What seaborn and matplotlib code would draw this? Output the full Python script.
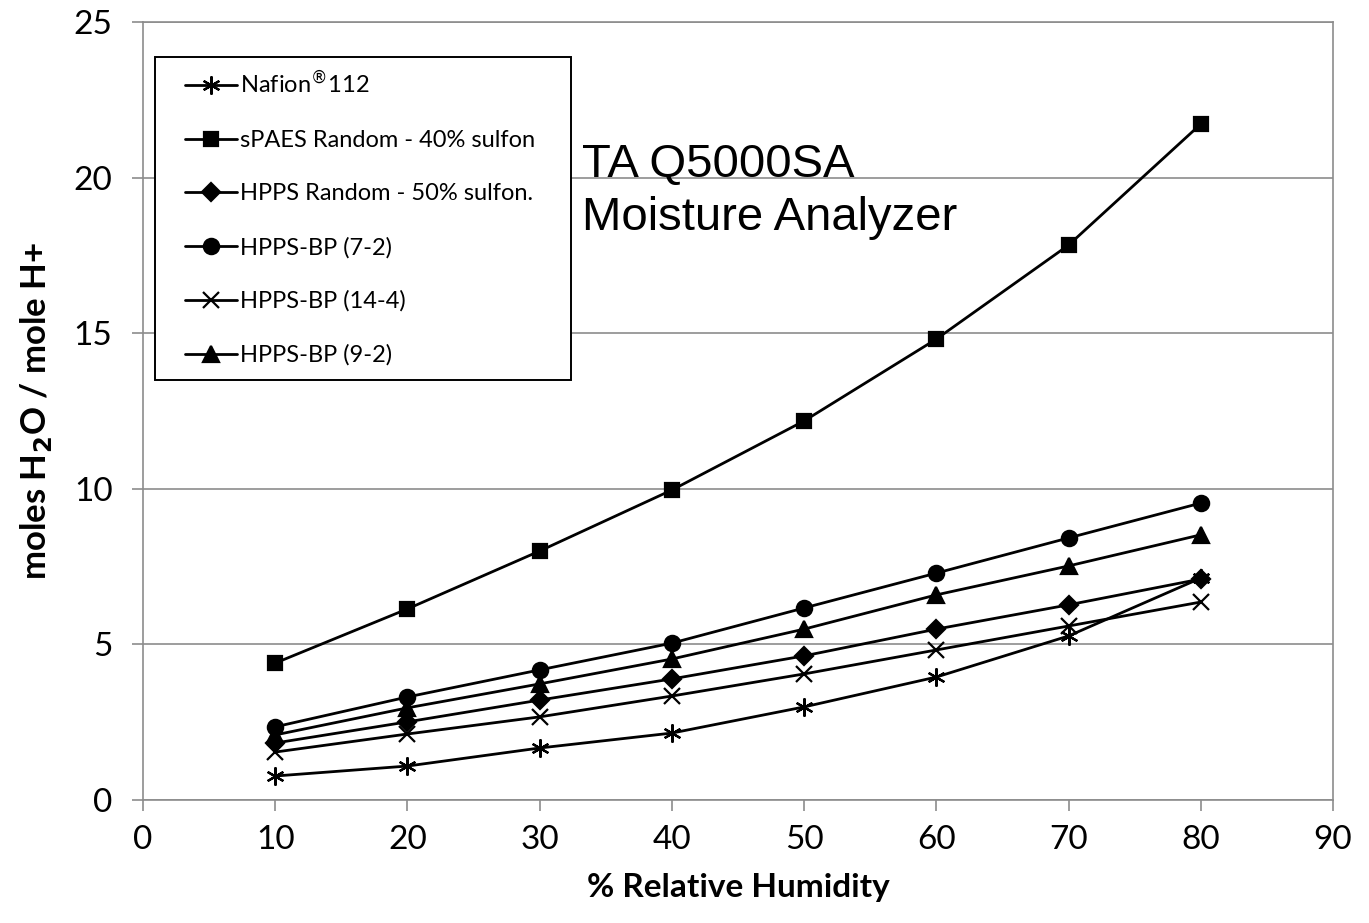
import matplotlib
matplotlib.use("Agg")
import matplotlib.pyplot as plt
from matplotlib.patches import Rectangle
import pandas as pd
import seaborn as sns

rh = [10, 20, 30, 40, 50, 60, 70, 80]

nafion = [0.77, 1.09, 1.67, 2.15, 2.99, 3.95, 5.27, 7.13]
spaes = [4.40, 6.14, 8.00, 9.96, 12.18, 14.81, 17.83, 21.72]
hpps_random = [1.83, 2.51, 3.21, 3.89, 4.63, 5.49, 6.27, 7.10]
bp_7_2 = [2.35, 3.31, 4.18, 5.04, 6.17, 7.29, 8.42, 9.54]
bp_14_4 = [1.54, 2.12, 2.67, 3.34, 4.05, 4.82, 5.59, 6.36]
bp_9_2 = [2.09, 2.96, 3.73, 4.53, 5.49, 6.59, 7.52, 8.52]

labels = [
    "Nafion$^{®}$112",
    "sPAES Random - 40% sulfon",
    "HPPS Random - 50% sulfon.",
    "HPPS-BP (7-2)",
    "HPPS-BP (14-4)",
    "HPPS-BP (9-2)",
]
series = [nafion, spaes, hpps_random, bp_7_2, bp_14_4, bp_9_2]
marker_list = [(6, 2, 0), "s", "D", "o", "x", "^"]
marker_sizes = [13, 10, 9, 11, 11, 12]

rows = []
for lab, vals in zip(labels, series):
    for x, y in zip(rh, vals):
        rows.append({"rh": x, "val": y, "series": lab})
df = pd.DataFrame(rows)

sns.set_theme(style="white")
plt.rcParams["font.family"] = ["Lato", "DejaVu Sans"]
plt.rcParams["text.color"] = "black"
plt.rcParams["axes.labelcolor"] = "black"

fig = plt.figure(figsize=(13.69, 9.23), dpi=100)
ax = fig.add_axes([0.1045, 0.1333, 0.8692, 0.8429])

for lab, m, ms in zip(labels, marker_list, marker_sizes):
    sub = df[df["series"] == lab]
    sns.lineplot(data=sub, x="rh", y="val", ax=ax, color="black", lw=2,
                 marker=m, markersize=ms, markeredgecolor="black",
                 markerfacecolor="black", markeredgewidth=1.6, label=lab)

ax.set_xlim(0, 90)
ax.set_ylim(0, 25)
ax.set_xticks(range(0, 91, 10))
ax.set_yticks(range(0, 26, 5))
ax.yaxis.grid(True, color="#8c8c8c", lw=1.2)
ax.xaxis.grid(False)
for s in ax.spines.values():
    s.set_color("#8c8c8c")
    s.set_linewidth(1.2)
ax.tick_params(axis="both", direction="out", length=8, width=1.2,
               color="#8c8c8c", labelsize=24, labelcolor="black",
               bottom=True, left=True)
ax.tick_params(axis="y", pad=14)
ax.tick_params(axis="x", pad=10)

ax.set_xlabel("% Relative Humidity", fontsize=24, fontweight="bold", labelpad=13)
ax.set_ylabel(r"moles H$_\mathbf{2}$O / mole H+", fontsize=25,
              fontweight="bold", labelpad=14)

# instrument note
ax.text(0.369, 0.8008, "TA Q5000SA", transform=ax.transAxes, fontsize=34,
        family=["Liberation Sans"], va="baseline", ha="left", color="black")
ax.text(0.369, 0.7326, "Moisture Analyzer", transform=ax.transAxes, fontsize=34,
        family=["Liberation Sans"], va="baseline", ha="left", color="black")

# legend box drawn by hand so the padding matches the original
ax.add_patch(Rectangle((0.0101, 0.540), 0.3496, 0.4152, transform=ax.transAxes,
                       facecolor="white", edgecolor="black", lw=1.4, zorder=4))
leg = ax.legend(loc="upper left", bbox_to_anchor=(0.0353, 0.938), fontsize=17,
                frameon=False, labelspacing=1.37, handlelength=2.2,
                borderpad=0, handletextpad=0.13, borderaxespad=0)
leg.set_zorder(5)

fig.savefig("out.png", dpi=100)
